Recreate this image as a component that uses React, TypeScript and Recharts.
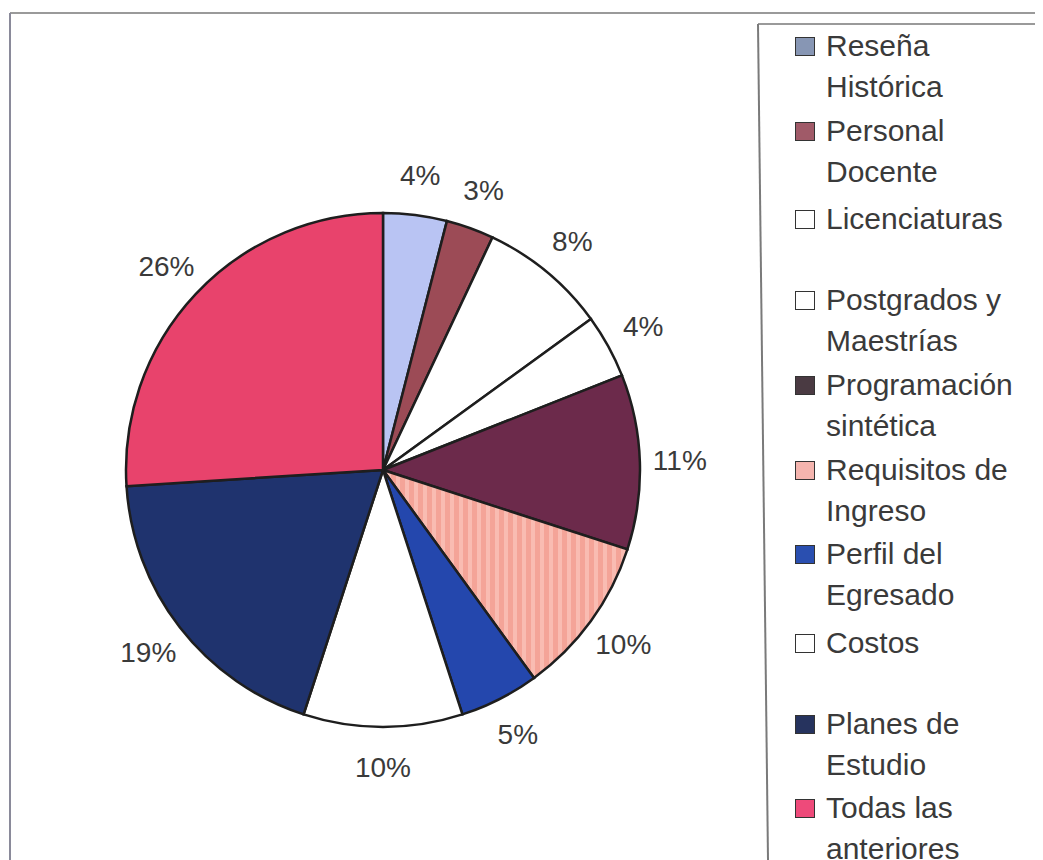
import React from 'react';
import { PieChart, Pie, Cell } from 'recharts';

const categories = [
    'Reseña Histórica',
    'Personal Docente',
    'Licenciaturas',
    'Postgrados y Maestrías',
    'Programación sintética',
    'Requisitos de Ingreso',
    'Perfil del Egresado',
    'Costos',
    'Planes de Estudio',
    'Todas las anteriores',
];
const legendLines = [
    ['Reseña', 'Histórica'],
    ['Personal', 'Docente'],
    ['Licenciaturas'],
    ['Postgrados y', 'Maestrías'],
    ['Programación', 'sintética'],
    ['Requisitos de', 'Ingreso'],
    ['Perfil del', 'Egresado'],
    ['Costos'],
    ['Planes de', 'Estudio'],
    ['Todas las', 'anteriores'],
];
const percentages = [4, 3, 8, 4, 11, 10, 5, 10, 19, 26];
const colors = [
    '#b9c4f3', '#9c4b56', '#ffffff', '#ffffff', '#6c2a4b',
    'url(#stripes)', '#2447ad', '#ffffff', '#1f336e', '#e8436c',
];
const swatchColors = [
    '#8796b4', '#a05a68', '#ffffff', '#ffffff', '#4a3a42',
    '#f4b4ae', '#2a4fb0', '#ffffff', '#26335e', '#ee4a7a',
];

const data = categories.map((name, i) => ({ name, value: percentages[i] }));

const FONT = '"Liberation Sans", Arial, sans-serif';
const RADIAN = Math.PI / 180;

const renderLabel = (props: any) => {
    const { cx, cy, midAngle, outerRadius, value } = props;
    const r = outerRadius + 40;
    const x = cx + r * Math.cos(-midAngle * RADIAN);
    const y = cy + r * Math.sin(-midAngle * RADIAN);
    return (
        <text x={x} y={y} fill="#3a3a3a" fontSize={28} fontFamily={FONT} textAnchor="middle" dominantBaseline="central">
            {`${value}%`}
        </text>
    );
};

export default function App() {
    return (
        <div style={{ position: 'relative', width: 1043, height: 860, margin: '-8px 0 0 -8px', overflow: 'hidden', background: '#fff' }}>
            <svg width={1043} height={860} style={{ position: 'absolute', left: 0, top: 0 }}>
                <line x1={10} y1={13} x2={1043} y2={13} stroke="#9a9a9a" strokeWidth={2} />
                <line x1={10} y1={13} x2={10} y2={860} stroke="#8a8a9a" strokeWidth={2} />
                <line x1={758} y1={24} x2={1043} y2={24} stroke="#9a9a9a" strokeWidth={2} />
                <line x1={758} y1={24} x2={768} y2={860} stroke="#7a7a7a" strokeWidth={2} />
                <text x={690} y={6} fill="#333" fontSize={37} fontWeight="bold" fontFamily={FONT} textAnchor="middle">GRAFICA</text>
            </svg>
            <div style={{ position: 'absolute', left: 0, top: 0 }}>
                <PieChart width={1043} height={860}>
                    <defs>
                        <pattern id="stripes" patternUnits="userSpaceOnUse" width={9} height={9}>
                            <rect x={0} y={0} width={9} height={9} fill="#f4a498" />
                            <rect x={0} y={0} width={4} height={9} fill="#f9bcb2" />
                        </pattern>
                    </defs>
                    <Pie
                        data={data}
                        dataKey="value"
                        nameKey="name"
                        cx={378}
                        cy={465}
                        outerRadius={257}
                        startAngle={90}
                        endAngle={-270}
                        stroke="#1e1e1e"
                        strokeWidth={2.5}
                        label={renderLabel}
                        labelLine={false}
                        isAnimationActive={false}
                    >
                        {data.map((d, i) => (
                            <Cell key={d.name} fill={colors[i]} />
                        ))}
                    </Pie>
                </PieChart>
            </div>
            {legendLines.map((lines, i) => {
                const top = 45 + i * 84.7 - 20 + (lines.length === 1 ? 4 : 0);
                return (
                    <div key={i} style={{ position: 'absolute', left: 795, top, fontFamily: FONT, fontSize: 30, lineHeight: '41px', color: '#3a3a3a' }}>
                        <div style={{ position: 'absolute', left: 0, top: 12, width: 20, height: 19, background: swatchColors[i], border: '1.5px solid #333', boxSizing: 'border-box' }} />
                        {lines.map((t, j) => (
                            <div key={j} style={{ marginLeft: 31, whiteSpace: 'nowrap' }}>{t}</div>
                        ))}
                    </div>
                );
            })}
        </div>
    );
}
